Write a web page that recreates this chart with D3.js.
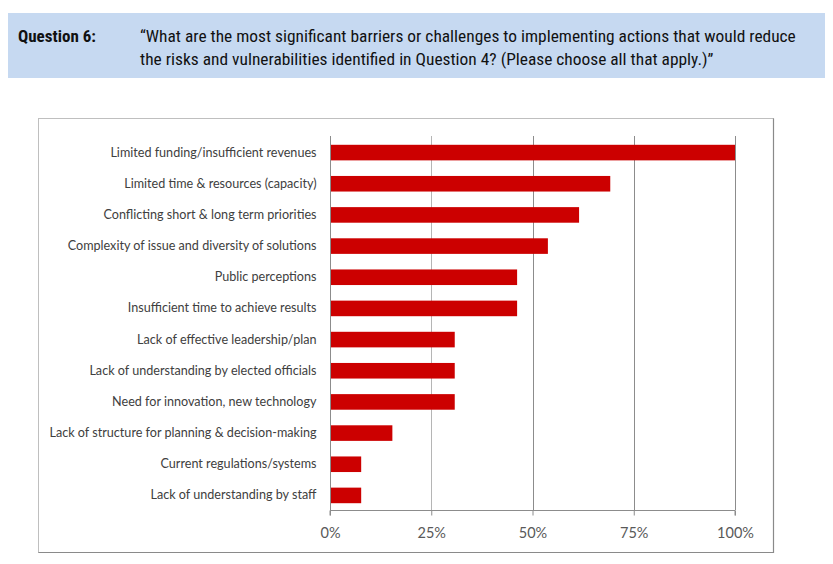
<!DOCTYPE html>
<html><head><meta charset="utf-8">
<script src="https://cdn.jsdelivr.net/npm/d3@7"></script>
<style>
body{margin:0;background:#fff;}
svg{display:block;}
</style></head>
<body>
<svg id="c" width="833" height="564"></svg>
<script>
const questionLabel = "Question 6:";
const questionLines = [
  "\u201CWhat are the most significant barriers or challenges to implementing actions that would reduce",
  "the risks and vulnerabilities identified in Question 4? (Please choose all that apply.)\u201D"
];
const categories = [
  "Limited funding/insufficient revenues",
  "Limited time & resources (capacity)",
  "Conflicting short & long term priorities",
  "Complexity of issue and diversity of solutions",
  "Public perceptions",
  "Insufficient time to achieve results",
  "Lack of effective leadership/plan",
  "Lack of understanding by elected officials",
  "Need for innovation, new technology",
  "Lack of structure for planning & decision-making",
  "Current regulations/systems",
  "Lack of understanding by staff"
];
const values = [100, 69.2, 61.5, 53.8, 46.2, 46.2, 30.8, 30.8, 30.8, 15.4, 7.7, 7.7];
const tickValues = [0, 25, 50, 75, 100];
const tickLabels = ["0%", "25%", "50%", "75%", "100%"];

const svg = d3.select("#c");

// Header band
svg.append("rect").attr("x", 8).attr("y", 13).attr("width", 817).attr("height", 65).attr("fill", "#c6d9f1");
const hfont = "'Liberation Sans Narrow','Arial Narrow','Roboto Condensed',sans-serif";
svg.append("text").attr("x", 18).attr("y", 42).text(questionLabel)
  .attr("font-family", hfont).attr("font-size", 17).attr("font-weight", "bold").attr("fill", "#111");
questionLines.forEach((t, i) => {
  svg.append("text").attr("x", 140).attr("y", 42 + i * 23).text(t)
    .attr("font-family", hfont).attr("font-size", 17.4).attr("fill", "#111");
});

// Chart frame
svg.append("rect").attr("x", 38.5).attr("y", 118.5).attr("width", 735).attr("height", 434)
  .attr("fill", "#fff").attr("stroke", "#bfbfbf").attr("stroke-width", 1);
svg.append("path").attr("d", "M773.5,118.5V552.5H38.5").attr("fill", "none").attr("stroke", "#8a8a8a").attr("stroke-width", 1.2);

const x = d3.scaleLinear().domain([0, 100]).range([330, 735]);
const y = d3.scaleBand().domain(categories).range([136, 510]).paddingInner(0.5).paddingOuter(0.25);

// gridlines
svg.append("g").selectAll("line").data(tickValues.slice(1)).join("line")
  .attr("x1", d => Math.round(x(d)) + 0.5).attr("x2", d => Math.round(x(d)) + 0.5)
  .attr("y1", 136).attr("y2", 510)
  .attr("stroke", d => d === 25 ? "#b5b5b5" : "#8c8c8c").attr("stroke-width", 1);

// bars
svg.append("g").selectAll("rect").data(categories).join("rect")
  .attr("x", x(0)).attr("y", d => y(d) + 1)
  .attr("width", (d, i) => x(values[i]) - x(0)).attr("height", y.bandwidth())
  .attr("fill", "#cc0000");

// x axis
const xAxis = d3.axisBottom(x).tickValues(tickValues).tickFormat((d, i) => tickLabels[i]).tickSize(5).tickPadding(12);
const gx = svg.append("g").attr("transform", "translate(0,510.5)").call(xAxis);
gx.select(".domain").attr("stroke", "#8c8c8c").attr("d", "M330,5V0H735V5");
gx.selectAll(".tick line").attr("stroke", "#8c8c8c");
gx.selectAll(".tick text").attr("font-family", "Lato, 'Open Sans', sans-serif").attr("font-size", 14.5).attr("fill", "#595959");

// y axis
const yAxis = d3.axisLeft(y).tickSize(0).tickPadding(14);
const gy = svg.append("g").attr("transform", "translate(330.5,1)").call(yAxis);
gy.select(".domain").attr("stroke", "#8c8c8c").attr("d", "M0,135V509");
gy.selectAll(".tick text").attr("font-family", "Lato, 'Open Sans', sans-serif").attr("font-size", 12.6).attr("fill", "#404040");
</script>
</body></html>
